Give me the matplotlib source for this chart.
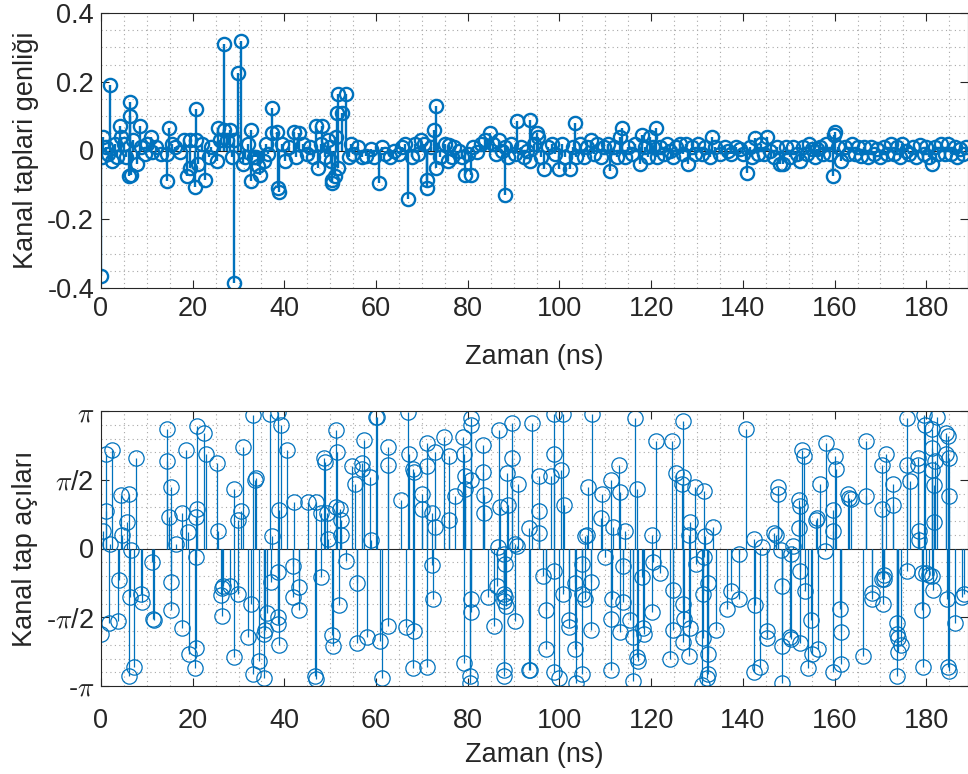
import numpy as np
import matplotlib
matplotlib.use("Agg")
import matplotlib.pyplot as plt
from matplotlib.ticker import MultipleLocator

plt.rcParams['font.family'] = ['Liberation Sans', 'DejaVu Sans']
plt.rcParams['mathtext.fontset'] = 'cm'

# --- kanal tap genlikleri (ust panel) ---
t_amp = [0.0, 0.3, 0.5, 1.0, 1.5, 2.0, 2.4, 3.0, 3.5, 4.1, 4.4, 5.0, 5.5, 6.2, 6.3, 6.3, 6.6, 7.0, 7.8, 8.5,
         8.7, 9.5, 10.0, 11.0, 11.2, 12.0, 13.0, 14.3, 14.3, 14.9, 15.5, 16.2, 17.3, 18.0, 18.7, 19.4, 19.4,
         20.6, 20.7, 20.7, 21.2, 22.0, 22.7, 23.5, 24.0, 25.2, 25.5, 26.0, 26.8, 26.9, 27.5, 28.2, 28.5,
         29.0, 29.0, 29.9, 30.5, 31.0, 31.5, 32.0, 32.7, 32.8, 33.3, 33.7, 34.2, 34.6, 35.5, 36.0, 36.5,
         37.2, 37.2, 38.3, 38.6, 38.9, 39.5, 40.1, 41.0, 42.0, 42.5, 43.1, 44.0, 45.0, 45.6, 46.2, 46.9,
         47.4, 48.0, 48.3, 48.8, 49.5, 50.0, 50.2, 50.3, 50.3, 51.0, 51.2, 51.4, 51.6, 51.7, 52.6, 53.4,
         54.0, 54.5, 55.0, 56.1, 57.0, 57.9, 58.9, 59.5, 60.7, 61.2, 62.0, 63.0, 64.0, 65.0, 65.6, 66.3,
         67.0, 67.9, 68.5, 69.2, 69.9, 70.5, 71.0, 71.2, 72.0, 72.6, 73.0, 73.0, 74.0, 75.0, 75.6, 75.8,
         76.5, 77.0, 78.0, 78.7, 79.4, 80.0, 80.6, 81.2, 82.0, 82.8, 83.8, 84.9, 85.5, 86.2, 86.8, 87.5,
         88.1, 88.1, 88.8, 89.5, 90.2, 90.7, 91.5, 92.2, 93.0, 93.6, 93.6, 94.4, 95.1, 95.4, 96.0, 96.7,
         97.5, 98.3, 99.1, 99.9, 100.5, 101.2, 102.3, 103.0, 103.4, 103.6, 104.5, 105.3, 106.0, 106.8,
         107.5, 108.2, 109.0, 109.8, 110.5, 111.0, 111.8, 112.5, 113.2, 113.6, 114.2, 115.0, 115.8, 116.5,
         117.6, 117.9, 118.6, 119.3, 119.8, 120.5, 121.0, 121.2, 122.0, 122.8, 123.5, 124.1, 124.8, 125.5,
         126.2, 127.0, 127.5, 128.1, 128.8, 129.5, 130.2, 131.0, 131.8, 132.8, 133.2, 134.0, 135.0, 136.0,
         136.8, 137.5, 138.5, 139.3, 140.0, 140.8, 141.5, 142.0, 142.6, 143.3, 144.0, 144.7, 145.2, 146.0,
         146.8, 147.5, 148.1, 148.8, 149.5, 150.2, 151.0, 151.8, 152.5, 153.2, 154.0, 154.5, 155.1, 155.8,
         156.1, 156.8, 157.5, 158.2, 158.9, 159.6, 159.8, 160.1, 160.8, 161.5, 162.2, 163.0, 163.8, 164.5,
         165.0, 165.7, 166.5, 167.2, 168.0, 168.7, 169.3, 170.0, 170.8, 171.5, 172.2, 173.0, 173.7, 174.3,
         174.8, 175.5, 176.2, 177.0, 177.8, 178.7, 179.4, 180.0, 180.6, 181.2, 181.8, 182.5, 183.2, 184.0,
         184.8, 185.5, 186.2, 186.8, 187.3, 188.0, 188.6]
amp = [-0.365, -0.02, 0.04, 0.01, -0.01, 0.19, -0.03, 0.02, -0.02, 0.07, 0.04, 0.02, -0.02, -0.075, 0.14, 0.10,
       -0.07, 0.03, -0.04, 0.07, 0.01, -0.01, 0.02, 0.04, -0.003, 0.01, -0.01, -0.09, -0.01, 0.065, 0.02, 0.01,
       -0.005, 0.03, -0.075, 0.03, -0.05, -0.105, 0.12, 0.03, -0.04, 0.02, -0.085, -0.02, 0.01, -0.03, 0.065,
       0.03, 0.06, 0.31, 0.03, 0.06, -0.02, -0.385, 0.03, 0.225, 0.32, -0.04, -0.02, 0.02, 0.06, -0.09, -0.02,
       -0.02, -0.045, -0.07, -0.03, 0.02, -0.01, 0.125, 0.05, 0.055, -0.11, -0.12, 0.02, -0.03, 0.01, 0.055,
       -0.02, 0.05, 0.02, -0.01, 0.01, -0.02, 0.07, -0.05, 0.02, 0.07, -0.02, 0.03, 0.01, -0.03, -0.085, -0.095,
       -0.075, 0.04, 0.11, -0.05, 0.165, 0.11, 0.165, -0.02, 0.02, -0.01, 0.01, -0.02, -0.015, 0.005, -0.02,
       -0.095, 0.01, -0.01, -0.02, 0.0, -0.01, 0.01, 0.02, -0.14, -0.02, 0.02, -0.01, 0.03, 0.02, -0.085, -0.11,
       0.01, 0.06, 0.13, -0.05, -0.02, 0.02, -0.03, 0.015, -0.02, 0.01, 0.0, -0.02, -0.07, -0.01, -0.07, 0.01,
       -0.005, 0.02, 0.03, 0.05, 0.02, -0.01, 0.03, 0.0, -0.13, 0.01, -0.02, 0.02, -0.01, 0.085, 0.01, -0.02,
       0.0, 0.09, -0.03, 0.02, 0.05, 0.04, -0.02, -0.055, 0.01, 0.02, -0.01, -0.055, 0.02, -0.02, -0.055, 0.01,
       0.08, -0.02, 0.02, -0.02, 0.01, 0.03, -0.01, 0.02, -0.02, 0.01, 0.02, -0.06, 0.01, -0.02, 0.04, 0.065,
       -0.02, 0.01, -0.01, 0.02, -0.04, 0.045, 0.01, -0.02, 0.04, 0.01, 0.065, -0.02, 0.01, -0.01, 0.02, 0.0,
       -0.02, 0.01, 0.02, -0.01, 0.02, -0.04, 0.01, -0.01, 0.02, -0.01, 0.01, -0.02, 0.04, 0.01, -0.01, 0.01,
       0.0, -0.01, 0.01, 0.005, -0.01, -0.065, 0.01, -0.02, 0.035, -0.01, 0.02, -0.01, 0.04, 0.0, -0.02, 0.01,
       -0.04, -0.04, 0.01, -0.02, 0.01, -0.01, -0.03, 0.01, -0.01, 0.02, 0.005, -0.02, 0.005, 0.01, -0.01, 0.02,
       -0.01, -0.075, 0.045, 0.055, 0.01, -0.03, 0.01, -0.01, 0.02, -0.01, 0.01, -0.015, 0.01, -0.02, 0.01,
       -0.01, 0.005, -0.02, 0.01, -0.01, 0.02, -0.01, 0.01, -0.02, 0.02, 0.0, -0.01, 0.01, -0.02, 0.015, -0.01,
       0.01, -0.02, -0.04, 0.01, -0.01, 0.02, -0.01, 0.02, -0.01, 0.01, -0.02, 0.005, -0.01, 0.01]

# --- kanal tap acilari (alt panel), pi biriminde ---
t_ph = [0.0, 0.5, 1.0, 1.0, 1.7, 2.0, 2.5, 3.8, 4.0, 4.3, 4.5, 5.7, 6.1, 6.2, 6.3, 6.5, 7.3, 7.6, 8.7, 9.0,
        11.2, 11.4, 11.6, 14.3, 14.3, 14.9, 15.2, 15.3, 15.3, 16.4, 17.6, 17.6, 18.5, 18.9, 19.2, 20.6, 20.7,
        20.7, 20.8, 20.9, 20.9, 22.5, 22.8, 25.2, 25.6, 26.2, 26.4, 26.5, 26.6, 28.1, 29.0, 29.0, 29.8, 29.9,
        30.5, 31.0, 32.0, 32.7, 33.1, 33.1, 33.6, 33.7, 34.5, 35.5, 35.6, 35.7, 36.1, 36.9, 37.1, 37.4, 38.6,
        38.6, 38.7, 38.7, 38.8, 38.9, 39.2, 40.5, 41.9, 41.9, 42.2, 43.2, 43.2, 45.2, 46.7, 46.9, 47.0, 47.9,
        48.0, 48.7, 48.8, 49.2, 49.6, 50.3, 50.6, 51.2, 51.3, 51.4, 52.0, 52.1, 52.4, 52.4, 53.4, 54.7, 55.4,
        55.8, 55.9, 56.9, 57.0, 57.4, 58.0, 58.7, 58.9, 60.0, 60.1, 60.9, 61.2, 62.5, 62.5, 62.7, 65.4, 66.5,
        67.0, 67.1, 68.1, 68.1, 68.3, 68.3, 70.1, 70.1, 71.0, 71.2, 71.2, 72.2, 72.3, 72.4, 72.9, 72.9, 74.9,
        75.9, 76.0, 77.2, 78.9, 79.2, 79.2, 79.3, 79.4, 80.5, 80.5, 80.6, 80.6, 80.6, 80.6, 80.8, 83.4, 83.4,
        83.5, 83.6, 84.3, 85.8, 86.3, 86.5, 86.7, 87.0, 87.8, 87.8, 87.9, 87.9, 88.0, 88.1, 88.1, 88.3, 88.6,
        88.7, 89.6, 89.7, 90.3, 90.3, 90.7, 91.0, 93.4, 93.4, 93.6, 93.9, 95.6, 95.6, 95.6, 96.3, 97.0, 97.0,
        98.1, 98.8, 98.8, 98.9, 98.9, 99.9, 100.3, 100.7, 100.8, 100.9, 102.1, 102.1, 103.4, 103.4, 103.7,
        105.0, 105.0, 105.0, 105.6, 105.6, 106.0, 106.3, 106.8, 106.8, 107.0, 109.1, 109.2, 109.9, 111.2,
        111.2, 111.2, 111.4, 111.7, 113.0, 113.1, 113.2, 113.8, 113.9, 114.3, 115.4, 116.1, 116.1, 116.5,
        116.8, 117.0, 117.1, 118.1, 118.2, 118.4, 120.1, 120.1, 120.5, 121.0, 121.9, 124.0, 124.5, 124.7,
        124.8, 125.4, 126.7, 126.9, 126.9, 126.9, 127.0, 127.1, 128.2, 128.2, 128.4, 128.5, 129.6, 129.8,
        131.0, 131.2, 131.4, 131.5, 131.5, 131.7, 132.2, 132.3, 132.4, 132.4, 133.4, 134.1, 136.5, 137.4,
        139.2, 139.2, 140.6, 142.5, 142.5, 142.6, 143.7, 144.1, 145.2, 145.2, 146.8, 147.2, 147.6, 147.7,
        148.3, 148.5, 148.5, 148.6, 150.3, 150.5, 150.6, 151.0, 152.3, 152.3, 152.4, 152.5, 152.5, 153.0,
        153.3, 153.6, 154.3, 154.9, 155.0, 155.9, 156.1, 156.4, 156.8, 157.9, 158.1, 159.6, 159.7, 159.7,
        160.1, 160.3, 161.2, 161.3, 161.3, 163.0, 163.1, 163.6, 166.1, 166.8, 166.9, 168.1, 168.2, 170.3,
        170.3, 170.3, 170.5, 170.7, 170.8, 171.3, 172.7, 172.8, 173.7, 173.7, 173.7, 173.8, 173.8, 174.5,
        175.8, 175.8, 175.9, 176.4, 178.1, 178.3, 178.4, 178.5, 179.0, 179.0, 179.2, 179.5, 179.8, 180.0,
        180.7, 181.2, 181.2, 181.2, 181.3, 181.4, 181.6, 181.7, 181.9, 182.3, 184.4, 184.4, 184.6, 184.7,
        184.7, 184.9, 184.9, 185.0, 186.3, 187.9, 188.3]
ph_pi = [-0.62, 0.13, 0.69, 0.27, -0.54, 0.03, 0.72, -0.53, -0.23, 0.39, 0.10, 0.19, 0.40, -0.93, -0.35, -0.01,
         -0.86, 0.66, -0.33, -0.39, -0.10, -0.51, -0.52, 0.87, 0.64, 0.23, -0.24, 0.45, -0.45, 0.03, 0.26, -0.58,
         0.72, 0.12, -0.77, -0.87, -0.72, -0.06, 0.23, 0.89, 0.29, 0.84, 0.69, 0.62, 0.13, -0.34, -0.29, -0.49,
         -0.27, -0.27, 0.43, -0.79, 0.21, -0.33, 0.27, 0.74, -0.64, -0.40, 0.97, -0.91, 0.50, 0.51, -0.82, -0.62,
         -0.94, -0.59, -0.47, 0.98, -0.24, 0.09, -0.50, -0.55, 0.99, -0.17, -0.70, 0.28, 0.90, 0.72, -0.13, -0.35,
         0.34, -0.28, -0.45, 0.34, -0.93, -0.95, 0.34, 0.26, -0.21, 0.66, 0.63, 0.26, 0.07, -0.63, -0.71, 0.86,
         0.30, 0.70, -0.41, 0.29, 0.21, 0.10, -0.09, 0.60, 0.47, -0.69, -0.25, 0.62, 0.58, 0.79, -0.64, 0.52,
         0.06, 0.96, 0.96, -0.67, -0.94, 0.74, -0.56, 0.61, 0.35, -0.57, 0.99, 0.69, 0.58, -0.87, 0.56, -0.60,
         0.40, 0.29, -0.86, 0.77, 0.60, -0.12, 0.26, -0.37, 0.70, 0.16, 0.81, 0.67, 0.21, 0.38, 0.81, 0.69, -0.83,
         0.53, 0.43, -0.93, -0.98, 0.95, 0.90, -0.37, -0.46, 0.50, 0.75, 0.56, 0.39, 0.26, -0.35, -0.56, -0.27,
         0.01, 0.86, 0.30, -0.04, -0.88, -0.33, -0.93, -0.38, -0.11, -0.35, -0.42, 0.55, 0.32, 0.91, 0.66, -0.53,
         0.03, 0.02, 0.47, 0.15, -0.88, -0.88, 0.91, 0.53, 0.27, 0.11, -0.20, -0.45, -0.73, 0.53, 0.98, 0.69,
         -0.16, -0.90, -0.94, 0.57, -0.33, 0.98, 0.32, -0.52, -0.57, -0.25, -0.73, -0.98, -0.91, -0.11, -0.33,
         0.09, -0.37, 0.10, 0.45, -0.24, -0.59, 0.98, 0.22, 0.40, -0.06, 0.50, -0.51, -0.88, -0.37, 0.16, 0.61,
         0.41, -0.61, -0.13, -0.39, 0.13, -0.52, -0.64, -0.96, 0.95, -0.79, 0.43, -0.82, -0.21, -0.58, -0.62,
         0.10, -0.46, -0.10, 0.78, -0.18, -0.80, 0.78, -0.30, -0.59, 0.55, 0.47, 0.52, -0.68, -0.40, 0.93, -0.51,
         0.10, -0.78, -0.58, 0.19, 0.45, -0.11, -0.99, -0.65, -0.33, 0.42, -0.06, 0.09, -0.94, -0.91, -0.77,
         -0.25, 0.16, -0.59, -0.44, -0.31, -0.04, -0.37, 0.87, 0.07, -0.90, -0.41, -0.86, 0.01, -0.60, -0.65,
         0.11, 0.10, 0.40, 0.45, -0.01, -0.27, -0.98, -0.71, -0.64, -0.66, -0.04, 0.02, 0.35, 0.15, 0.31, -0.69,
         -0.16, 0.72, 0.67, -0.31, -0.87, -0.52, -0.77, 0.21, 0.22, -0.73, 0.47, -0.02, 0.77, -0.90, 0.28, 0.13,
         0.67, 0.58, -0.44, -0.61, -0.84, 0.40, 0.37, 0.36, -0.78, 0.78, 0.38, -0.32, -0.37, 0.61, 0.29, -0.22,
         -0.40, -0.22, -0.19, 0.69, 0.47, 0.32, -0.54, -0.62, -0.93, -0.65, -0.75, -0.70, 0.61, -0.16, 0.95,
         0.49, 0.66, 0.61, 0.06, 0.13, -0.18, -0.45, -0.86, 0.97, 0.90, -0.18, -0.19, 0.87, 0.73, -0.20, 0.57,
         -0.30, 0.46, 0.19, 0.64, 0.96, 0.84, 0.69, -0.37, 0.82, -0.86, 0.38, -0.89, 0.66, -0.54, -0.35, -0.33]

phase = np.pi * np.array(ph_pi)

blue = '#0072BD'
dark = '#262626'
fs = 19.5

fig = plt.figure(figsize=(9.68, 7.74), dpi=100)
ax1 = fig.add_axes([101 / 968, 1 - 288 / 774, 867 / 968, 275 / 774])
ax2 = fig.add_axes([101 / 968, 1 - 686 / 774, 867 / 968, 275 / 774])


def style_axes(ax, xpad):
    for s in ax.spines.values():
        s.set_color(dark)
        s.set_linewidth(0.8)
    ax.tick_params(which='major', direction='in', length=6, width=0.8, top=True, right=True,
                   colors=dark, labelsize=fs, pad=5)
    ax.tick_params(axis='x', which='major', pad=xpad)
    ax.tick_params(which='minor', length=0)
    ax.xaxis.set_minor_locator(MultipleLocator(5))
    ax.grid(which='minor', linestyle=(0, (1, 3)), color='#a8a8a8', linewidth=0.8)
    ax.set_axisbelow(True)
    ax.set_xlim(0, 189.1)
    ax.set_xticks(np.arange(0, 181, 20))
    ax.set_xlabel('Zaman (ns)', fontsize=fs, color=dark)
    ax.xaxis.set_label_coords(0.5, -0.205)


# ust panel
ml, sl, bl = ax1.stem(t_amp, amp, basefmt=' ')
ml.set_color(blue)
ml.set_markerfacecolor('none')
ml.set_markersize(9.5)
ml.set_markeredgewidth(1.7)
sl.set_color(blue)
sl.set_linewidth(1.7)
ax1.axhline(0, color=dark, linewidth=0.8, zorder=1.5)
style_axes(ax1, 6)
ax1.set_ylim(-0.4, 0.4)
ax1.set_yticks([-0.4, -0.2, 0, 0.2, 0.4])
ax1.set_yticklabels(['-0.4', '-0.2', '0', '0.2', '0.4'])
ax1.yaxis.set_minor_locator(MultipleLocator(0.05))
ax1.set_ylabel('Kanal taplari genliği', fontsize=fs, color=dark, labelpad=6)

# alt panel
ml, sl, bl = ax2.stem(t_ph, phase, basefmt=' ')
ml.set_color(blue)
ml.set_markerfacecolor('none')
ml.set_markersize(11)
ml.set_markeredgewidth(0.9)
sl.set_color(blue)
sl.set_linewidth(0.9)
ax2.axhline(0, color=dark, linewidth=0.8, zorder=1.5)
style_axes(ax2, 16)
ax2.set_ylim(-np.pi, np.pi)
ax2.set_yticks([-np.pi, -np.pi / 2, 0, np.pi / 2, np.pi])
ax2.set_yticklabels([r'-$\pi$', r'-$\pi$/2', '0', r'$\pi$/2', r'$\pi$'])
ax2.yaxis.set_minor_locator(MultipleLocator(np.pi / 10))
ax2.set_ylabel('Kanal tap açıları', fontsize=fs, color=dark, labelpad=6)

fig.savefig('out.png', dpi=100)
